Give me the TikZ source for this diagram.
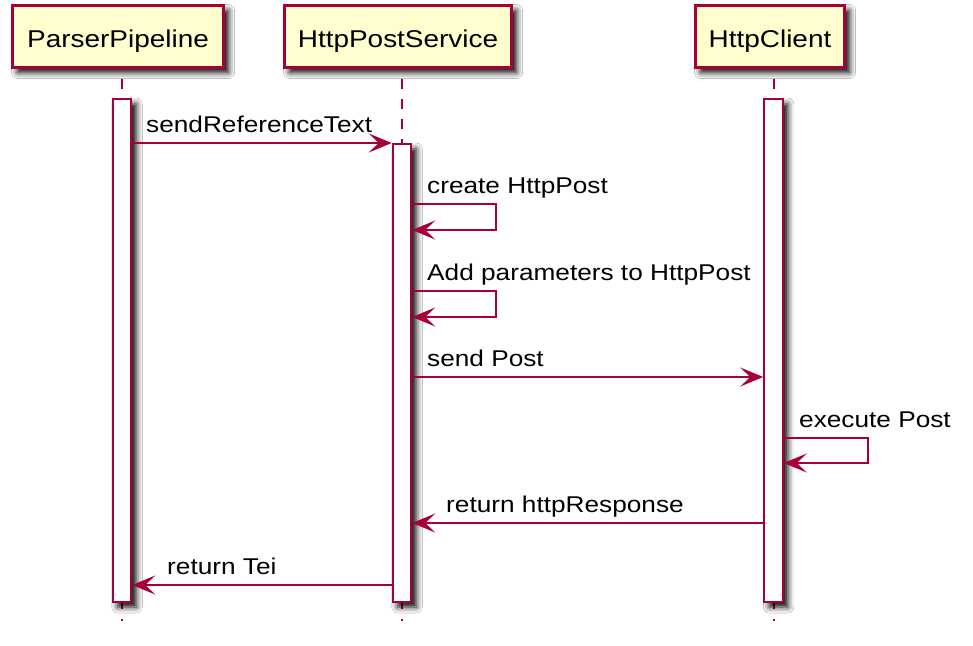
\documentclass[tikz,border=0pt]{standalone}
\usepackage{fontspec}
\setmainfont{Liberation Sans}[FakeStretch=1.15]
\usetikzlibrary{arrows.meta,shadows.blur}
\definecolor{pborder}{HTML}{A80036}
\definecolor{pfill}{HTML}{FEFECE}
\begin{document}
\begin{tikzpicture}[x=1pt,y=-1pt,
  shade/.style={blur shadow={shadow xshift=5pt, shadow yshift=-5pt, shadow blur radius=6pt, shadow opacity=100}},
  participant/.style={draw=pborder, fill=pfill, line width=3pt, inner sep=0pt,
    text height=24pt, text depth=3pt, minimum height=62pt,
    font=\fontsize{24.3pt}{28pt}\selectfont, shade},
  actbar/.style={draw=pborder, fill=white, line width=2pt, inner sep=0pt, minimum width=18.5pt, shade},
  lifeline/.style={draw=pborder, line width=2pt, dash pattern=on 10pt off 10pt, dash phase=10pt},
  msg/.style={draw=pborder, line width=2pt, -{Stealth[length=23pt,width=19pt,inset=10pt]}},
  msglabel/.style={anchor=base west, inner sep=0pt, font=\fontsize{22.8pt}{26pt}\selectfont}
]
\useasboundingbox (0,0) rectangle (973,645);
\fill[white] (0,0) rectangle (973,645);

% lifeline anchors
\coordinate (lp) at (122,0);
\coordinate (ls) at (402,0);
\coordinate (lc) at (773.5,0);
\coordinate (lpend) at (122,621);
\coordinate (lsend) at (402,621);
\coordinate (lcend) at (773.5,621);

% participants
\node[participant, minimum width=211pt] (pp) at (118,36.5) {ParserPipeline};
\node[participant, minimum width=227pt] (ps) at (398,36.5) {HttpPostService};
\node[participant, minimum width=149pt] (pc) at (770,36.5) {HttpClient};

% lifelines
\draw[lifeline] (pp.south -| lp) -- (lpend);
\draw[lifeline] (ps.south -| ls) -- (lsend);
\draw[lifeline] (pc.south -| lc) -- (lcend);

% activation bars
\node[actbar, minimum height=503pt] (pbar) at (122,350.5) {};
\node[actbar, minimum height=458pt] (sbar) at (402,373) {};
\node[actbar, minimum height=503pt] (cbar) at (773.5,350.5) {};

% message rows
\coordinate (m1) at (0,143);
\coordinate (m2a) at (496,204);
\coordinate (m2b) at (496,230);
\coordinate (m3a) at (496,291);
\coordinate (m3b) at (496,317);
\coordinate (m4) at (0,377);
\coordinate (m5a) at (868,438);
\coordinate (m5b) at (868,463);
\coordinate (m6) at (0,523);
\coordinate (m7) at (0,585);

\draw[msg] (pbar.east |- m1) -- (sbar.west |- m1);
\node[msglabel] (l1) at (146,132) {sendReferenceText};

\draw[msg] (sbar.east |- m2a) -- (m2a) -- (m2b) -- (sbar.east |- m2b);
\node[msglabel] (l2) at (427,193) {create HttpPost};

\draw[msg] (sbar.east |- m3a) -- (m3a) -- (m3b) -- (sbar.east |- m3b);
\node[msglabel] (l3) at (427,280) {Add parameters to HttpPost};

\draw[msg] (sbar.east |- m4) -- (cbar.west |- m4);
\node[msglabel] (l4) at (427,366) {send Post};

\draw[msg] (cbar.east |- m5a) -- (m5a) -- (m5b) -- (cbar.east |- m5b);
\node[msglabel] (l5) at (799,427) {execute Post};

\draw[msg] (cbar.west |- m6) -- (sbar.east |- m6);
\node[msglabel] (l6) at (446,512) {return httpResponse};

\draw[msg] (sbar.west |- m7) -- (pbar.east |- m7);
\node[msglabel] (l7) at (167,574) {return Tei};
\end{tikzpicture}
\end{document}
